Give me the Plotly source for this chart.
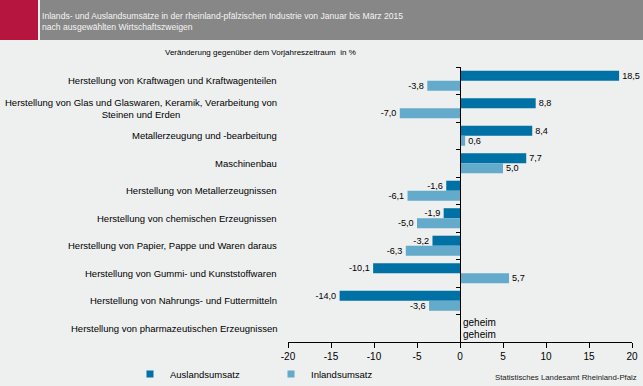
import plotly.graph_objects as go

categories = [
    "Herstellung von Kraftwagen und Kraftwagenteilen",
    "Herstellung von Glas und Glaswaren, Keramik, Verarbeitung von<br>Steinen und Erden",
    "Metallerzeugung und -bearbeitung",
    "Maschinenbau",
    "Herstellung von Metallerzeugnissen",
    "Herstellung von chemischen Erzeugnissen",
    "Herstellung von Papier, Pappe und Waren daraus",
    "Herstellung von Gummi- und Kunststoffwaren",
    "Herstellung von Nahrungs- und Futtermitteln",
    "Herstellung von pharmazeutischen Erzeugnissen",
]
ausland = [18.5, 8.8, 8.4, 7.7, -1.6, -1.9, -3.2, -10.1, -14.0, None]
inland = [-3.8, -7.0, 0.6, 5.0, -6.1, -5.0, -6.3, 5.7, -3.6, None]
tick_vals = [-20, -15, -10, -5, 0, 5, 10, 15, 20]
tick_text = ["-20", "-15", "-10", "-5", "0", "5", "10", "15", "20"]

DARK = "#0071a4"
LIGHT = "#64aacb"
FONT = "Liberation Sans, Arial, sans-serif"

W, H = 643, 386
L, R, T, B = 288, 11, 67, 44
PW, PH = W - L - R, H - T - B


def px_x(p):
    return (p - L) / PW


def px_y(p):
    return (H - B - p) / PH


def fmt(v):
    return "" if v is None else f"{v:.1f}".replace(".", ",")


fig = go.Figure()
fig.add_trace(go.Bar(
    name="Auslandsumsatz", y=categories, x=ausland, orientation="h",
    marker=dict(color=DARK, line=dict(width=0)), showlegend=False,
    text=[fmt(v) for v in ausland], textposition="outside",
    textfont=dict(size=10, color="black", family=FONT), cliponaxis=False,
))
fig.add_trace(go.Bar(
    name="Inlandsumsatz", y=categories, x=inland, orientation="h",
    marker=dict(color=LIGHT, line=dict(width=0)), showlegend=False,
    text=[fmt(v) for v in inland], textposition="outside",
    textfont=dict(size=10, color="black", family=FONT), cliponaxis=False,
))
# legend entries (small square swatches)
for name, col in (("Auslandsumsatz", DARK), ("Inlandsumsatz", LIGHT)):
    fig.add_trace(go.Scatter(
        name=name, x=[None], y=[None], mode="markers",
        marker=dict(symbol="square", size=7, color=col), hoverinfo="skip",
    ))
# invisible helper trace for the tick marks along the zero line
fig.add_trace(go.Scatter(
    y=categories, x=[0] * len(categories), yaxis="y2", mode="none",
    showlegend=False, hoverinfo="skip",
))

annotations = []
for c in categories:
    annotations.append(dict(
        text=c, xref="paper", yref="y", x=px_x(279), y=c, xanchor="right",
        yanchor="middle", align="center", showarrow=False,
        font=dict(size=9.5, color="black", family=FONT),
    ))
for shift in (6, -6):
    annotations.append(dict(
        text="geheim", xref="x", yref="y", x=0, y=categories[-1], xanchor="left",
        xshift=1, yshift=shift, yanchor="middle", showarrow=False,
        font=dict(size=10, color="black", family=FONT),
    ))
annotations += [
    dict(text="Inlands- und Auslandsumsätze in der rheinland-pfälzischen Industrie von Januar bis März 2015<br>nach ausgewählten Wirtschaftszweigen",
         xref="paper", yref="paper", x=px_x(40), y=px_y(21), xanchor="left", yanchor="middle",
         align="left", showarrow=False, font=dict(size=8.6, color="#f4f4f4", family=FONT)),
    dict(text="Veränderung gegenüber dem Vorjahreszeitraum  in %",
         xref="paper", yref="paper", x=px_x(260), y=px_y(53), xanchor="center", yanchor="middle",
         showarrow=False, font=dict(size=8.0, color="black", family=FONT)),
    dict(text="Statistisches Landesamt Rheinland-Pfalz",
         xref="paper", yref="paper", x=px_x(639), y=px_y(377), xanchor="right", yanchor="middle",
         showarrow=False, font=dict(size=7.8, color="#222222", family=FONT)),
]

shapes = [
    dict(type="rect", xref="paper", yref="paper", x0=px_x(0), x1=px_x(38), y0=px_y(40), y1=px_y(0),
         fillcolor="#b5153f", line=dict(width=0), layer="below"),
    dict(type="rect", xref="paper", yref="paper", x0=px_x(40), x1=px_x(643), y0=px_y(40), y1=px_y(0),
         fillcolor="#878787", line=dict(width=0), layer="below"),
]

fig.update_layout(
    width=W, height=H,
    margin=dict(l=L, r=R, t=T, b=B, pad=0, autoexpand=False),
    paper_bgcolor="#eeefef", plot_bgcolor="#eeefef",
    barmode="group", bargap=0.27, bargroupgap=0,
    font=dict(family=FONT, size=10, color="black"),
    xaxis=dict(range=[-20, 20], tickmode="array", tickvals=tick_vals, ticktext=tick_text,
               showgrid=False, zeroline=True, zerolinecolor="black", zerolinewidth=1,
               showline=True, linecolor="black", linewidth=1, ticks="outside", ticklen=5,
               tickcolor="black", tickfont=dict(size=10, family=FONT), fixedrange=True),
    yaxis=dict(type="category", categoryorder="array", categoryarray=categories,
               autorange="reversed", showticklabels=False, showgrid=False, ticks="",
               showline=False, zeroline=False, fixedrange=True),
    yaxis2=dict(type="category", categoryorder="array", categoryarray=categories,
                autorange="reversed", overlaying="y", anchor="free", position=0.5,
                showticklabels=False, showgrid=False, showline=True, linecolor="black",
                ticks="outside", ticklen=4, tickcolor="black", tickson="boundaries",
                zeroline=False, fixedrange=True),
    legend=dict(orientation="h", x=px_x(130), y=px_y(374), xanchor="left", yanchor="middle",
                bgcolor="rgba(0,0,0,0)", font=dict(size=9.5, family=FONT),
                entrywidth=96, entrywidthmode="pixels", itemwidth=30, traceorder="normal"),
    annotations=annotations,
    shapes=shapes,
    showlegend=True,
)

fig.write_html("out.html", config={"displayModeBar": False},
               post_script="document.body.style.margin='0';document.body.style.overflow='hidden';")
